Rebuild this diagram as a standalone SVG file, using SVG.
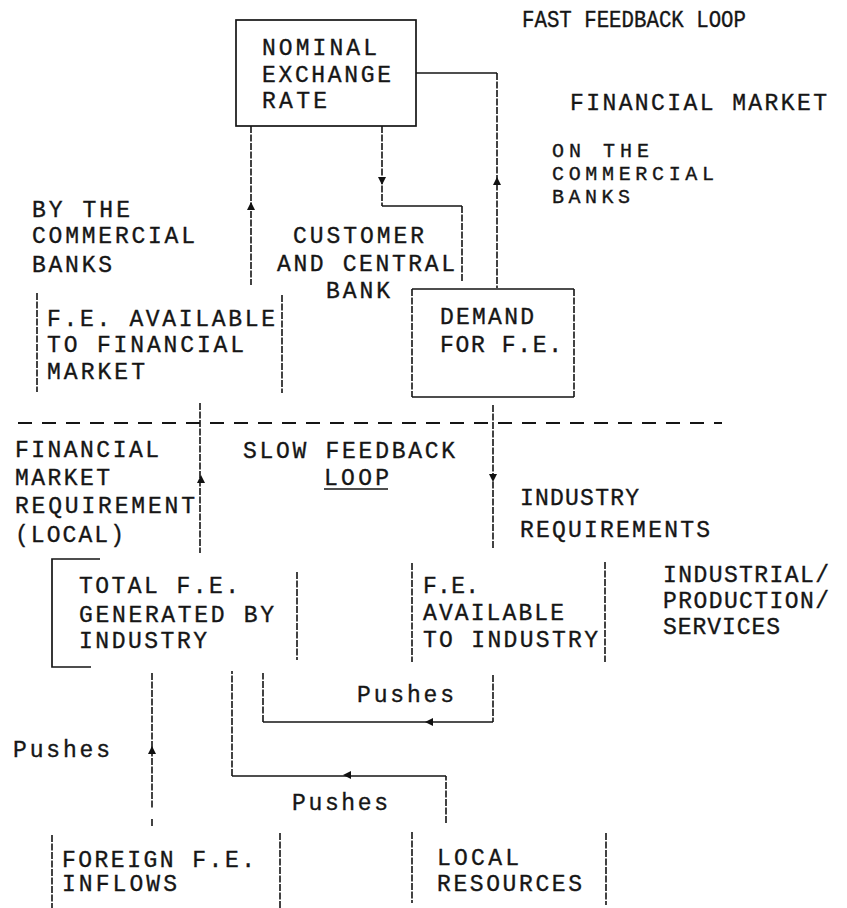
<svg xmlns="http://www.w3.org/2000/svg" xmlns:xlink="http://www.w3.org/1999/xlink" width="847" height="908" viewBox="0 0 847 908">
<style>
text{font-family:"Liberation Mono","DejaVu Sans Mono",monospace;font-size:23px;fill:#161616;stroke:#161616;stroke-width:0.35}
.sm{font-size:20px}
.ln{fill:none;stroke:#151515;stroke-width:1.7}
.vd{fill:none;stroke:#151515;stroke-width:1.6;stroke-dasharray:7 1.5}
.sep{fill:none;stroke:#151515;stroke-width:1.8;stroke-dasharray:14 10}
.ah{fill:#111}
</style>
<defs>
<path id="au" class="ah" d="M0,-5 L4,3 L-4,3 Z"/>
<path id="ad" class="ah" d="M0,5 L4,-3 L-4,-3 Z"/>
<path id="al" class="ah" d="M-5,0 L3,-4 L3,4 Z"/>
</defs>
<rect width="847" height="908" fill="#fff"/>

<g id="labels">
<text x="522" y="27" textLength="224" lengthAdjust="spacingAndGlyphs">FAST FEEDBACK LOOP</text>
<text x="570" y="110" textLength="257" lengthAdjust="spacing">FINANCIAL MARKET</text>
<text class="sm" x="552" y="157" textLength="97" lengthAdjust="spacing">ON THE</text>
<text class="sm" x="552" y="180" textLength="162" lengthAdjust="spacing">COMMERCIAL</text>
<text class="sm" x="552" y="203" textLength="78" lengthAdjust="spacing">BANKS</text>
<text x="32" y="217" textLength="98" lengthAdjust="spacing">BY THE</text>
<text x="32" y="243" textLength="163" lengthAdjust="spacing">COMMERCIAL</text>
<text x="32" y="272" textLength="80" lengthAdjust="spacing">BANKS</text>
<text x="293" y="243" textLength="131" lengthAdjust="spacing">CUSTOMER</text>
<text x="277" y="271" textLength="178" lengthAdjust="spacing">AND CENTRAL</text>
<text x="326" y="298" textLength="64" lengthAdjust="spacing">BANK</text>
<text x="15" y="457" textLength="144" lengthAdjust="spacing">FINANCIAL</text>
<text x="15" y="485" textLength="95" lengthAdjust="spacing">MARKET</text>
<text x="15" y="513" textLength="180" lengthAdjust="spacing">REQUIREMENT</text>
<text x="15" y="542" textLength="109" lengthAdjust="spacing">(LOCAL)</text>
<text x="243" y="458" textLength="212" lengthAdjust="spacing">SLOW FEEDBACK</text>
<text x="324" y="485" textLength="65" lengthAdjust="spacing">LOOP</text>
<line class="ln" x1="324" y1="489" x2="388" y2="489"/>
<text x="520" y="505" textLength="119" lengthAdjust="spacing">INDUSTRY</text>
<text x="520" y="537" textLength="190" lengthAdjust="spacing">REQUIREMENTS</text>
<text x="663" y="582" textLength="166" lengthAdjust="spacing">INDUSTRIAL/</text>
<text x="663" y="608" textLength="166" lengthAdjust="spacing">PRODUCTION/</text>
<text x="663" y="634" textLength="117" lengthAdjust="spacing">SERVICES</text>
<text x="13" y="757" textLength="97" lengthAdjust="spacing">Pushes</text>
<text x="357" y="702" textLength="97" lengthAdjust="spacing">Pushes</text>
<text x="292" y="810" textLength="96" lengthAdjust="spacing">Pushes</text>
</g>

<g id="nominal-exchange-rate">
<rect class="ln" x="236" y="20" width="180" height="106"/>
<text x="262" y="55" textLength="115" lengthAdjust="spacing">NOMINAL</text>
<text x="262" y="82" textLength="129" lengthAdjust="spacing">EXCHANGE</text>
<text x="262" y="108" textLength="65" lengthAdjust="spacing">RATE</text>
</g>

<g id="demand-for-fe">
<path class="ln" d="M412,289 H574 M412,397 H574"/>
<path class="vd" d="M412,289 V397 M574,289 V397"/>
<text x="440" y="324" textLength="94" lengthAdjust="spacing">DEMAND</text>
<text x="440" y="352" textLength="122" lengthAdjust="spacing">FOR F.E.</text>
</g>

<g id="fe-available-financial-market">
<path class="vd" d="M37,293 V392 M282,295 V393"/>
<text x="47" y="326" textLength="228" lengthAdjust="spacing">F.E. AVAILABLE</text>
<text x="47" y="352" textLength="197" lengthAdjust="spacing">TO FINANCIAL</text>
<text x="47" y="379" textLength="98" lengthAdjust="spacing">MARKET</text>
</g>

<g id="total-fe-generated">
<path class="ln" d="M100,559 H52 V667 H91"/>
<path class="vd" d="M297,572 V660"/>
<text x="79" y="593" textLength="160" lengthAdjust="spacing">TOTAL F.E.</text>
<text x="79" y="622" textLength="195" lengthAdjust="spacing">GENERATED BY</text>
<text x="79" y="648" textLength="128" lengthAdjust="spacing">INDUSTRY</text>
</g>

<g id="fe-available-industry">
<path class="vd" d="M412,563 V662 M605,562 V662"/>
<text x="423" y="593" textLength="56" lengthAdjust="spacing">F.E.</text>
<text x="423" y="620" textLength="141" lengthAdjust="spacing">AVAILABLE</text>
<text x="423" y="647" textLength="175" lengthAdjust="spacing">TO INDUSTRY</text>
</g>

<g id="foreign-fe-inflows">
<path class="vd" d="M52,835 V908 M280,833 V908"/>
<text x="62" y="867" textLength="193" lengthAdjust="spacing">FOREIGN F.E.</text>
<text x="62" y="891" textLength="115" lengthAdjust="spacing">INFLOWS</text>
</g>

<g id="local-resources">
<path class="vd" d="M412,832 V903 M606,833 V905"/>
<text x="437" y="865" textLength="82" lengthAdjust="spacing">LOCAL</text>
<text x="437" y="891" textLength="145" lengthAdjust="spacing">RESOURCES</text>
</g>

<g id="connectors">
<path class="sep" d="M18,423 H722"/>
<path class="vd" d="M251,126 V285"/>
<use xlink:href="#au" x="251" y="207"/>
<path class="vd" d="M382,126 V206"/>
<path class="ln" d="M382,206 H462"/>
<path class="vd" d="M462,206 V282"/>
<use xlink:href="#ad" x="382" y="180"/>
<path class="ln" d="M416,73 H497"/>
<path class="vd" d="M497,73 V288"/>
<use xlink:href="#au" x="497" y="182"/>
<path class="vd" d="M493,405 V548"/>
<use xlink:href="#ad" x="493" y="477"/>
<path class="vd" d="M200,403 V553"/>
<use xlink:href="#au" x="201" y="480"/>
<path class="vd" d="M493,675 V722 M263,722 V673"/>
<path class="ln" d="M493,722 H263"/>
<use xlink:href="#al" x="430" y="722"/>
<path class="vd" d="M446,823 V776 M232,776 V671"/>
<path class="ln" d="M446,776 H232"/>
<use xlink:href="#al" x="348" y="775"/>
<path class="vd" d="M152,673 V808 M152,819 V826"/>
<use xlink:href="#au" x="152" y="751"/>
</g>
</svg>
